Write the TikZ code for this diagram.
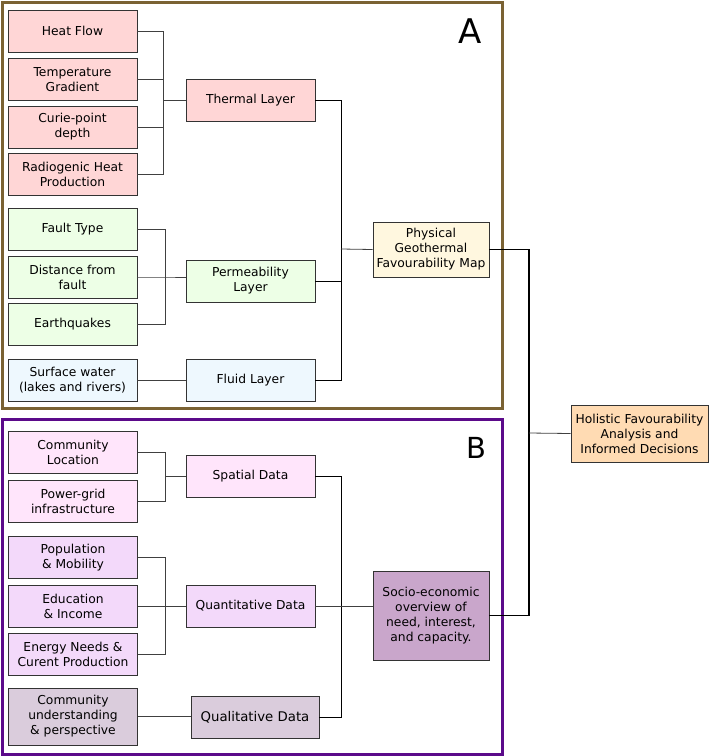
\documentclass[tikz,border=0pt]{standalone}
\usepackage{fontspec}
\setmainfont{DejaVu Sans}
\usetikzlibrary{calc}

\definecolor{thermalfill}{HTML}{FFD6D6}
\definecolor{permfill}{HTML}{EDFFE6}
\definecolor{fluidfill}{HTML}{EEF8FE}
\definecolor{physfill}{HTML}{FFF7DF}
\definecolor{holfill}{HTML}{FFDBB3}
\definecolor{spatfill}{HTML}{FFE5FB}
\definecolor{quantfill}{HTML}{F3D9FA}
\definecolor{qualfill}{HTML}{DACCDC}
\definecolor{sociofill}{HTML}{C9A6CB}
\definecolor{frameA}{HTML}{7A6233}
\definecolor{frameB}{HTML}{5B0A8A}

\tikzset{
  box/.style = {draw=black!80, line width=0.9pt, rectangle, align=center,
    minimum width=129pt, minimum height=42pt, inner sep=1pt,
    font=\fontsize{12.3}{15}\selectfont},
  link/.style = {draw=black!75, line width=0.8pt},
  trunk/.style = {draw=black, line width=1pt},
  mainline/.style = {draw=black, line width=1.5pt}
}

\begin{document}
\begin{tikzpicture}[x=1pt, y=-1pt]
            \useasboundingbox (0,0) rectangle (709,756);
            %枠
            \path[draw, frameA, line width=3pt](2,2)rectangle(502,408);
            \path[draw, frameB, line width=3pt](2,419)rectangle(502,754);
            \node[font=\fontsize{34}{34}\selectfont](labA)at(470,31){A};
            \node[font=\fontsize{29}{29}\selectfont](labB)at(476,448){B};
            %A: 入力データ
            \node[box, fill=thermalfill](hf)at(72.5,31){Heat Flow};
            \node[box, fill=thermalfill](tg)at(72.5,79.5){Temperature\\Gradient};
            \node[box, fill=thermalfill](cp)at(72.5,127){Curie-point\\depth};
            \node[box, fill=thermalfill](rh)at(72.5,174){Radiogenic Heat\\Production};
            \node[box, fill=permfill](ft)at(72.5,229){Fault Type};
            \node[box, fill=permfill](df)at(72.5,277){Distance from\\fault};
            \node[box, fill=permfill](eq)at(72.5,324){Earthquakes};
            \node[box, fill=fluidfill](sw)at(72.5,380){Surface water\\(lakes and rivers)};
            %A: レイヤー
            \node[box, fill=thermalfill](thermal)at(250.5,100){Thermal Layer};
            \node[box, fill=permfill](perm)at(250.5,281){Permeability\\Layer};
            \node[box, fill=fluidfill](fluid)at(250.5,380){Fluid Layer};
            \node[box, fill=physfill, minimum width=116pt, minimum height=55pt]
              (phys)at(431,249.5){Physical\\Geothermal\\Favourability Map};
            %B: 入力データ
            \node[box, fill=spatfill](cl)at(73,452){Community\\Location};
            \node[box, fill=spatfill](pg)at(73,501){Power-grid\\infrastructure};
            \node[box, fill=quantfill](pm)at(73,557.5){Population\\\& Mobility};
            \node[box, fill=quantfill](ei)at(73,606){Education\\\& Income};
            \node[box, fill=quantfill](en)at(73,654){Energy Needs \&\\Curent Production};
            \node[box, fill=qualfill, minimum height=57pt](cu)at(73,716.5){Community\\understanding\\\& perspective};
            %B: データ
            \node[box, fill=spatfill](spatial)at(250.5,476){Spatial Data};
            \node[box, fill=quantfill](quant)at(250.5,606){Quantitative Data};
            \node[box, fill=qualfill, minimum width=128pt, font=\fontsize{13.3}{15}\selectfont]
              (qual)at(255,717){Qualitative Data};
            \node[box, fill=sociofill, minimum width=116pt, minimum height=89pt]
              (socio)at(431,615.5){Socio-economic\\overview of\\need, interest,\\and capacity.};
            %結果
            \node[box, fill=holfill, minimum width=137pt, minimum height=57pt]
              (hol)at(639.5,433.5){Holistic Favourability\\Analysis and\\Informed Decisions};
            %分岐点
            \coordinate(tj)at(163,100);
            \coordinate(pj)at(165,277);
            \coordinate(gj)at(341,249);
            \coordinate(sj)at(165,476);
            \coordinate(qj)at(165,606);
            \coordinate(oj)at(341,606);
            \coordinate(hj)at(529,433);
            %Thermal
            \path[link](hf.east)-|(tj);
            \path[link](tg.east)-|(tj);
            \path[link](cp.east)-|(tj);
            \path[link](rh.east)-|(tj);
            \path[link](tj)to(thermal.west);
            %Permeability
            \path[link](ft.east)-|(pj);
            \path[link](eq.east)-|(pj);
            \path[link](df.east)to(pj)to(pj-|perm.west);
            %Fluid
            \path[link](sw.east)to(fluid.west);
            %Physical map
            \path[trunk](thermal.east)-|(gj);
            \path[trunk](perm.east)-|(gj);
            \path[trunk](fluid.east)-|(gj);
            \path[link](gj)to(phys.west);
            %Spatial
            \path[link](cl.east)-|(sj);
            \path[link](pg.east)-|(sj);
            \path[link](sj)to(spatial.west);
            %Quantitative
            \path[link](pm.east)-|(qj);
            \path[link](en.east)-|(qj);
            \path[link](ei.east)to(quant.west);
            %Qualitative
            \path[link](cu.east)to(qual.west|-cu.east);
            %Socio-economic
            \path[trunk](spatial.east)-|(oj);
            \path[trunk](qual.east)-|(oj);
            \path[link](quant.east)to(socio.west|-quant.east);
            %Holistic
            \path[mainline](phys.east)-|(hj);
            \path[mainline](socio.east)-|(hj);
            \path[link](hj)to(hol.west);
        \end{tikzpicture}
\end{document}
